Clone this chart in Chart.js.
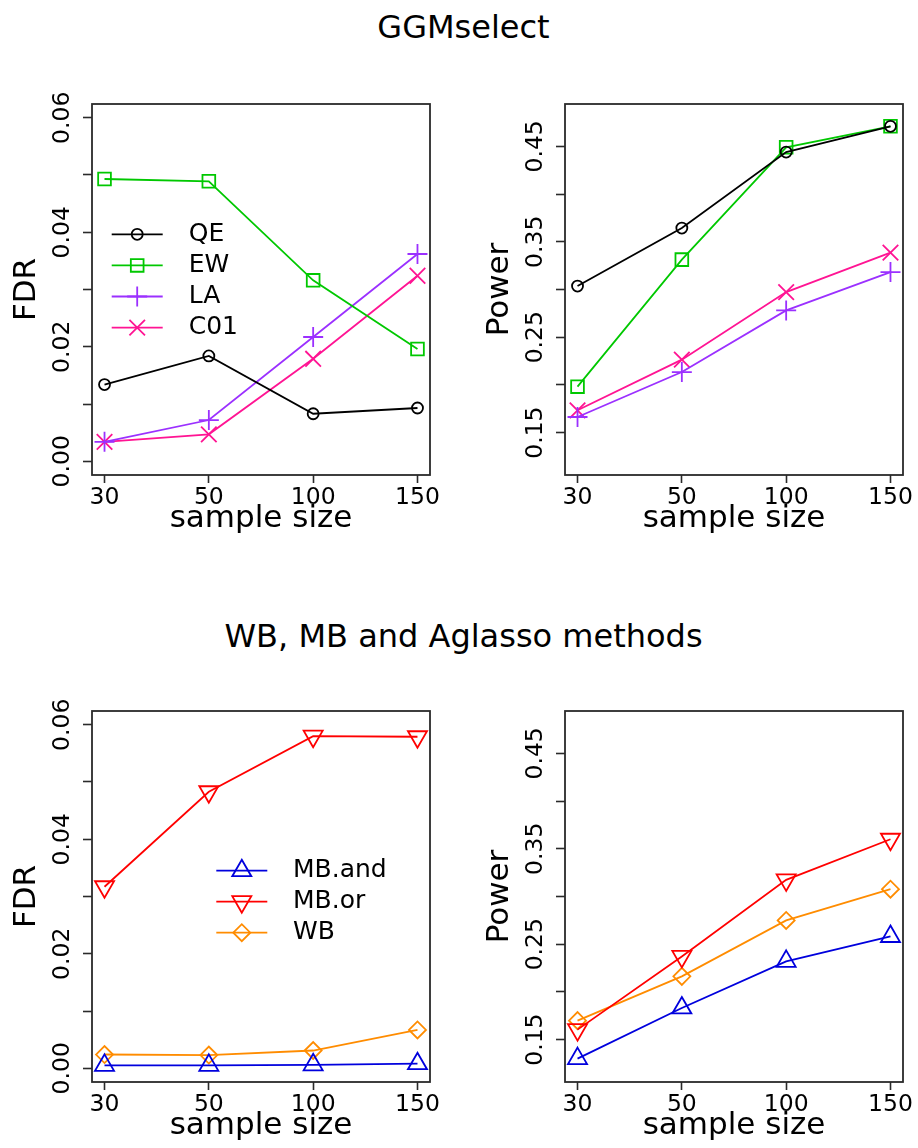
<!DOCTYPE html>
<html>
<head>
<meta charset="utf-8">
<script src="https://cdn.jsdelivr.net/npm/chart.js@4.4.1/dist/chart.umd.min.js"></script>
<style>
html, body { margin: 0; padding: 0; background: #fff; }
body { width: 918px; height: 1148px; position: relative; overflow: hidden; font-family: 'DejaVu Sans', sans-serif; }
.title { position: absolute; left: 463.5px; transform: translateX(-50%); font-size: 32px; line-height: 32px; white-space: nowrap; color: #000; }
.panel { position: absolute; width: 445px; height: 449px; }
</style>
</head>
<body>
<div class="title" style="top:10.6px">GGMselect</div>
<div class="title" style="top:620px">WB, MB and Aglasso methods</div>
<div class="panel" style="left:0px;top:90px"><canvas id="c1"></canvas></div>
<div class="panel" style="left:473px;top:90px"><canvas id="c2"></canvas></div>
<div class="panel" style="left:0px;top:697px"><canvas id="c3"></canvas></div>
<div class="panel" style="left:473px;top:697px"><canvas id="c4"></canvas></div>
<script>
// ---------- data ----------
const sampleSizes = ['30', '50', '100', '150'];
const fdrTickLabels = ['0.00', '0.02', '0.04', '0.06'];
const powerTickLabels = ['0.15', '0.25', '0.35', '0.45'];

// GGMselect panel
const ggmNames = ['QE', 'EW', 'LA', 'C01'];
const ggmFdrQE  = [0.0134, 0.0184, 0.0083, 0.0093];
const ggmFdrEW  = [0.0493, 0.0489, 0.0316, 0.0196];
const ggmFdrLA  = [0.0034, 0.0072, 0.0217, 0.0362];
const ggmFdrC01 = [0.0034, 0.0047, 0.0179, 0.0324];
const ggmPowQE  = [0.3036, 0.3644, 0.4440, 0.4710];
const ggmPowEW  = [0.1982, 0.3313, 0.4490, 0.4710];
const ggmPowLA  = [0.1664, 0.2135, 0.2781, 0.3183];
const ggmPowC01 = [0.1734, 0.2265, 0.2973, 0.3386];

// WB, MB and Aglasso panel
const wbNames = ['MB.and', 'MB.or', 'WB'];
const wbFdrMBand = [0.0005, 0.0005, 0.0006, 0.0008];
const wbFdrMBor  = [0.0317, 0.0483, 0.0580, 0.0579];
const wbFdrWB    = [0.0024, 0.0023, 0.0031, 0.0067];
const wbPowMBand = [0.1301, 0.1832, 0.2320, 0.2581];
const wbPowMBor  = [0.1605, 0.2372, 0.3174, 0.3600];
const wbPowWB    = [0.1699, 0.2163, 0.2749, 0.3077];

// ---------- styles ----------
const FONT = 'DejaVu Sans';
Chart.defaults.font.family = FONT;
const LW = 1.8;
const styles = {
  'QE':     { color: '#000000', pointStyle: 'circle',   r: 5.5, rot: 0 },
  'EW':     { color: '#00C800', pointStyle: 'rect',     r: 9,   rot: 0 },
  'LA':     { color: '#9B30FF', pointStyle: 'cross',    r: 10,  rot: 0 },
  'C01':    { color: '#FF1493', pointStyle: 'crossRot', r: 11,  rot: 0 },
  'MB.and': { color: '#0000DD', pointStyle: 'triangle', r: 11,  rot: 0 },
  'MB.or':  { color: '#FF0000', pointStyle: 'triangle', r: 11,  rot: 180 },
  'WB':     { color: '#FF8C00', pointStyle: 'rectRot',  r: 8.5, rot: 0 }
};

function makeDataset(name, values) {
  const s = styles[name];
  return {
    label: name,
    data: values.map((v, i) => ({ x: i + 1, y: v })),
    borderColor: s.color,
    backgroundColor: 'rgba(0,0,0,0)',
    borderWidth: LW,
    tension: 0,
    pointStyle: s.pointStyle,
    pointRadius: s.r,
    pointHoverRadius: s.r,
    pointRotation: s.rot,
    pointBorderColor: s.color,
    pointBackgroundColor: 'rgba(0,0,0,0)',
    pointBorderWidth: LW,
    clip: false
  };
}

// ---------- plugins ----------
const framePlugin = {
  id: 'frame',
  beforeDatasetsDraw(chart) {
    const a = chart.chartArea, ctx = chart.ctx;
    ctx.save();
    ctx.strokeStyle = '#2a2a2a';
    ctx.lineWidth = 1.8;
    ctx.strokeRect(a.left, a.top, a.right - a.left, a.bottom - a.top);
    ctx.restore();
  }
};

function drawMarker(ctx, style, radius, rotation, x, y) {
  if (Chart.helpers && Chart.helpers.drawPoint) {
    Chart.helpers.drawPoint(ctx, { pointStyle: style, radius: radius, rotation: rotation, borderWidth: LW }, x, y);
    return;
  }
  const rad = rotation * Math.PI / 180;
  ctx.beginPath();
  if (style === 'circle') {
    ctx.arc(x, y, radius, 0, Math.PI * 2);
  } else if (style === 'rect') {
    const s = Math.SQRT1_2 * radius;
    ctx.rect(x - s, y - s, 2 * s, 2 * s);
  } else if (style === 'cross' || style === 'crossRot') {
    const b = rad + (style === 'crossRot' ? Math.PI / 4 : 0);
    const dx = Math.cos(b) * radius, dy = Math.sin(b) * radius;
    ctx.moveTo(x - dx, y - dy); ctx.lineTo(x + dx, y + dy);
    ctx.moveTo(x + dy, y - dx); ctx.lineTo(x - dy, y + dx);
  } else if (style === 'triangle') {
    let r2 = rad;
    ctx.moveTo(x + Math.sin(r2) * radius, y - Math.cos(r2) * radius);
    r2 += 2 * Math.PI / 3;
    ctx.lineTo(x + Math.sin(r2) * radius, y - Math.cos(r2) * radius);
    r2 += 2 * Math.PI / 3;
    ctx.lineTo(x + Math.sin(r2) * radius, y - Math.cos(r2) * radius);
    ctx.closePath();
  } else if (style === 'rectRot') {
    ctx.moveTo(x - radius, y); ctx.lineTo(x, y - radius);
    ctx.lineTo(x + radius, y); ctx.lineTo(x, y + radius);
    ctx.closePath();
  }
  ctx.stroke();
}

const lineLegend = {
  id: 'lineLegend',
  afterDraw(chart, args, opts) {
    if (!opts || !opts.show) return;
    const a = chart.chartArea, ctx = chart.ctx;
    ctx.save();
    chart.data.datasets.forEach((ds, i) => {
      const y = a.top + opts.y0 + i * opts.dy;
      const x0 = a.left + opts.x0, x1 = a.left + opts.x1;
      ctx.strokeStyle = ds.borderColor;
      ctx.fillStyle = 'rgba(0,0,0,0)';
      ctx.lineWidth = LW;
      ctx.beginPath();
      ctx.moveTo(x0, y);
      ctx.lineTo(x1, y);
      ctx.stroke();
      drawMarker(ctx, ds.pointStyle, ds.pointRadius, ds.pointRotation || 0, (x0 + x1) / 2, y);
      ctx.fillStyle = '#000';
      ctx.font = '25px "' + FONT + '"';
      ctx.textAlign = 'left';
      ctx.textBaseline = 'middle';
      ctx.fillText(ds.label, a.left + opts.tx, y);
    });
    ctx.restore();
  }
};

// ---------- chart factory ----------
function makeChart(id, datasets, yCfg, legendCfg) {
  const tickGrid = (len) => ({
    display: true, drawOnChartArea: false, drawTicks: true,
    tickLength: len, tickColor: '#2a2a2a', tickWidth: 1.6
  });
  return new Chart(document.getElementById(id), {
    type: 'line',
    data: { datasets: datasets },
    plugins: [framePlugin, lineLegend],
    options: {
      responsive: true,
      maintainAspectRatio: false,
      animation: false,
      events: [],
      layout: { padding: { top: 14, right: 15, left: 0, bottom: 0 } },
      plugins: {
        legend: { display: false },
        tooltip: { enabled: false },
        lineLegend: legendCfg
      },
      scales: {
        x: {
          type: 'linear',
          min: 0.88, max: 4.12,
          afterBuildTicks: (s) => { s.ticks = sampleSizes.map((_, i) => ({ value: i + 1 })); },
          afterFit: (s) => { s.height = 64; },
          ticks: {
            autoSkip: false, minRotation: 0, maxRotation: 0, padding: 1,
            color: '#000', font: { family: FONT, size: 23.5 },
            callback: (v) => sampleSizes[Math.round(v) - 1] || ''
          },
          grid: tickGrid(8),
          border: { display: false },
          title: {
            display: true, text: 'sample size', color: '#000',
            font: { family: FONT, size: 31 }, padding: { top: 0, bottom: 1 }
          }
        },
        y: {
          type: 'linear',
          min: yCfg.min, max: yCfg.max,
          ticks: {
            stepSize: yCfg.step, autoSkip: false,
            minRotation: 90, maxRotation: 90, crossAlign: 'center', padding: -6.5,
            color: '#000', font: { family: FONT, size: 23.5 },
            callback: (v) => yCfg.labels.includes(v.toFixed(2)) ? v.toFixed(2) : ''
          },
          afterBuildTicks: (s) => {
            const k0 = Math.ceil(yCfg.min / yCfg.step - 1e-9);
            const k1 = Math.floor(yCfg.max / yCfg.step + 1e-9);
            const t = [];
            for (let k = k0; k <= k1; k++) t.push({ value: Math.round(k * yCfg.step * 1e6) / 1e6 });
            s.ticks = t;
          },
          afterFit: (s) => { s.width = 92; },
          grid: tickGrid(9),
          border: { display: false },
          title: {
            display: true, text: yCfg.title, color: '#000',
            font: { family: FONT, size: 31 }, padding: { top: 8, bottom: 0 }
          }
        }
      }
    }
  });
}

const fdrAxis   = { min: -0.0024, max: 0.0624, step: 0.01, labels: fdrTickLabels,   title: 'FDR' };
const powerAxis = { min: 0.1056,  max: 0.4944, step: 0.05, labels: powerTickLabels, title: 'Power' };

makeChart('c1', [
  makeDataset('QE', ggmFdrQE), makeDataset('EW', ggmFdrEW),
  makeDataset('LA', ggmFdrLA), makeDataset('C01', ggmFdrC01)
], fdrAxis, { show: true, x0: 19.7, x1: 70.7, tx: 96.7, y0: 130.3, dy: 31.1 });

makeChart('c2', [
  makeDataset('QE', ggmPowQE), makeDataset('EW', ggmPowEW),
  makeDataset('LA', ggmPowLA), makeDataset('C01', ggmPowC01)
], powerAxis, { show: false });

makeChart('c3', [
  makeDataset('MB.and', wbFdrMBand), makeDataset('MB.or', wbFdrMBor), makeDataset('WB', wbFdrWB)
], fdrAxis, { show: true, x0: 124.3, x1: 175.3, tx: 201, y0: 159.7, dy: 31 });

makeChart('c4', [
  makeDataset('MB.and', wbPowMBand), makeDataset('MB.or', wbPowMBor), makeDataset('WB', wbPowWB)
], powerAxis, { show: false });
</script>
</body>
</html>
